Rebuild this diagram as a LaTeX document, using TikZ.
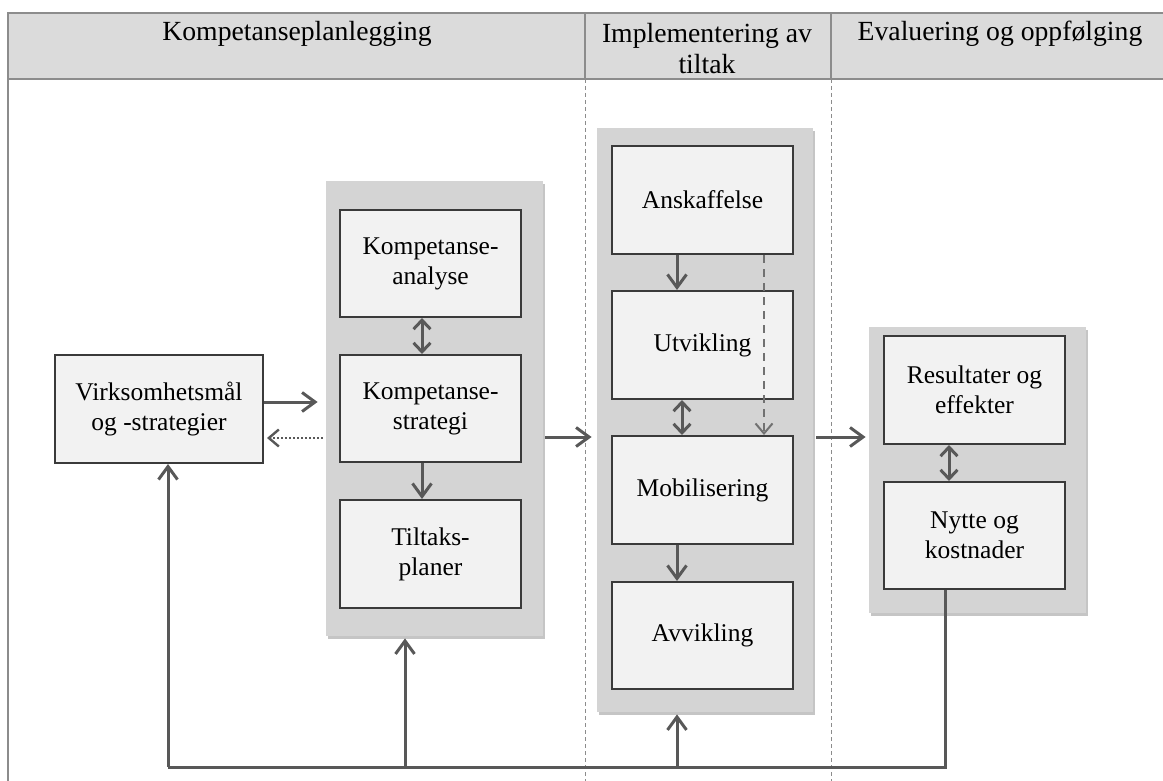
\documentclass[tikz,border=0pt]{standalone}
\usepackage{fontspec}
\setmainfont{Liberation Serif}
\usetikzlibrary{arrows.meta}
\usetikzlibrary{shadows}
\usepackage{xcolor}

\definecolor{hodegraa}{RGB}{219,219,219}
\definecolor{panelgraa}{RGB}{212,212,212}
\definecolor{boksgraa}{RGB}{242,242,242}
\definecolor{strekgraa}{RGB}{58,58,58}
\definecolor{pilgraa}{RGB}{88,88,88}
\definecolor{rammegraa}{RGB}{140,140,140}

\begin{document}
\begin{tikzpicture}[x=0.5pt,y=-0.5pt,
  ramme/.style={draw=rammegraa,line width=0.8pt},
  skille/.style={draw=rammegraa,line width=0.5pt,dash pattern=on 2pt off 1.5pt},
  hode/.style={align=center,font=\fontsize{13.85}{15.5}\selectfont,inner sep=0pt},
  panel/.style={fill=panelgraa,inner sep=0pt,drop shadow={shadow xshift=1pt,shadow yshift=-1.5pt,fill=black!45,opacity=0.5}},
  innerbox/.style={draw=strekgraa,line width=1pt,fill=boksgraa,align=center,inner sep=0pt,font=\fontsize{12.75}{15}\selectfont},
  pil/.style={draw=pilgraa,line width=1.5pt,-{Straight Barb[length=6.5pt,width=9.5pt]}},
  tovei/.style={draw=pilgraa,line width=1.5pt,{Straight Barb[length=4.5pt,width=8.5pt]}-{Straight Barb[length=4.5pt,width=8.5pt]}},
  prikkpil/.style={draw=pilgraa,line width=1.2pt,dash pattern=on 1pt off 1pt,-{Straight Barb[length=5pt,width=8.5pt]}},
  strekpil/.style={draw=pilgraa!85,line width=1pt,dash pattern=on 4pt off 3pt,-{Straight Barb[length=5pt,width=8.5pt]}},
  linje/.style={draw=pilgraa,line width=1.5pt}]

\newcommand{\felt}[7]{
  \node[#2,minimum width={(#5-#3)*0.5pt},minimum height={(#6-#4)*0.5pt}] (#1) at ({(#3+#5)/2},{(#4+#6)/2}) {#7};
}

\useasboundingbox (0,0) rectangle (1163,781);

% topprad
\fill[hodegraa] (8,13) rectangle (1163,79);
\draw[ramme] (1163,13) -- (8,13) -- (8,781);
\draw[ramme] (8,79) -- (1163,79);
\draw[ramme] (585,13) -- (585,79);
\draw[ramme] (831,13) -- (831,79);
\draw[skille] (585,79) -- (585,781);
\draw[skille] (831,79) -- (831,781);

\node[hode] (h1) at (297,34) {Kompetanseplanlegging};
\node[hode] (h2) at (707,49) {Implementering av\\tiltak};
\node[hode] (h3) at (1000,34) {Evaluering og oppfølging};

% paneler
\felt{p1}{panel}{326}{181}{543}{636}{}
\felt{p2}{panel}{597}{128}{813}{712}{}
\felt{p3}{panel}{869}{327}{1086}{613}{}

% bokser
\felt{virk}{innerbox}{55}{355}{263}{463}{Virksomhetsmål\\og -strategier}

\felt{analyse}{innerbox}{340}{210}{521}{317}{Kompetanse-\\analyse}
\felt{strategi}{innerbox}{340}{355}{521}{462}{Kompetanse-\\strategi}
\felt{tiltak}{innerbox}{340}{500}{521}{608}{Tiltaks-\\planer}

\felt{ansk}{innerbox}{612}{146}{793}{254}{Anskaffelse}
\felt{utv}{innerbox}{612}{291}{793}{399}{Utvikling}
\felt{mob}{innerbox}{612}{436}{793}{544}{Mobilisering}
\felt{avv}{innerbox}{612}{582}{793}{689}{Avvikling}

\felt{res}{innerbox}{884}{336}{1065}{444}{Resultater og\\effekter}
\felt{nytte}{innerbox}{884}{482}{1065}{589}{Nytte og\\kostnader}

% hjelpepunkter
\coordinate (k168) at (168,0);
\coordinate (k405) at (405,0);
\coordinate (k422) at (422,0);
\coordinate (k677) at (677,0);
\coordinate (k682) at (682,0);
\coordinate (k764) at (764,0);
\coordinate (k945) at (945,0);
\coordinate (k949) at (949,0);
\coordinate (r402) at (0,402);
\coordinate (r437) at (0,437);
\coordinate (r438) at (0,438);
\coordinate (bunn) at (0,767);

% piler
\draw[tovei] (analyse.south -| k422) -- (strategi.north -| k422);
\draw[pil] (strategi.south -| k422) -- (tiltak.north -| k422);

\draw[pil] (ansk.south -| k677) -- (utv.north -| k677);
\draw[tovei] (utv.south -| k682) -- (mob.north -| k682);
\draw[pil] (mob.south -| k677) -- (avv.north -| k677);
\draw[strekpil] (ansk.south -| k764) -- (mob.north -| k764);

\draw[tovei] (res.south -| k949) -- (nytte.north -| k949);

\draw[pil,shorten >=4pt] (virk.east |- r402) -- (p1.west |- r402);
\draw[prikkpil,shorten <=1.5pt,shorten >=1.5pt] (p1.west |- r438) -- (virk.east |- r438);
\draw[pil,shorten <=1pt,shorten >=2.5pt] (p1.east |- r437) -- (p2.west |- r437);
\draw[pil,shorten <=1.5pt,shorten >=1.5pt] (p2.east |- r437) -- (p3.west |- r437);

% tilbakemelding
\draw[linje] (nytte.south -| k945) |- (k168 |- bunn);
\draw[pil] (k168 |- bunn) -- (virk.south -| k168);
\draw[pil,shorten >=1pt] (k405 |- bunn) -- (p1.south -| k405);
\draw[pil,shorten >=1pt] (k677 |- bunn) -- (p2.south -| k677);

\end{tikzpicture}
\end{document}
